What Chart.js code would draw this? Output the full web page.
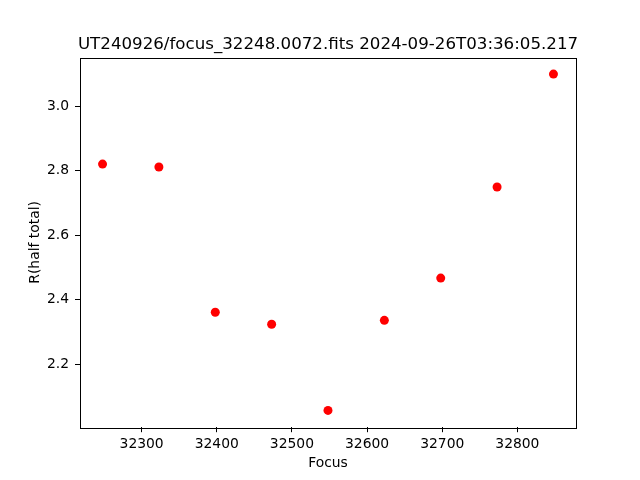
<!DOCTYPE html>
<html>
<head>
<meta charset="utf-8">
<script src="https://cdn.jsdelivr.net/npm/chart.js@4/dist/chart.umd.min.js"></script>
<style>
    html, body { margin: 0; padding: 0; background: #fff; }
    #wrap { width: 640px; height: 480px; }
</style>
</head>
<body>
<div id="wrap"><canvas id="focusChart" width="640" height="480"></canvas></div>
<script>
const focusValues = [32248, 32323, 32398, 32473, 32548, 32623, 32698, 32773, 32848];
const halfTotalR = [2.820, 2.811, 2.361, 2.324, 2.057, 2.336, 2.467, 2.749, 3.099];
const xTicks = [32300, 32400, 32500, 32600, 32700, 32800];
const yTicks = [2.2, 2.4, 2.6, 2.8, 3.0];

const chartTitle = 'UT240926/focus_32248.0072.fits 2024-09-26T03:36:05.217';
const fontFamily = '"DejaVu Sans", sans-serif';

// matplotlib style: full black frame and a title centred on the plot area
const frame = {
    id: 'frame',
    afterDraw(chart) {
        const { ctx, chartArea: a } = chart;
        ctx.save();
        ctx.strokeStyle = '#000';
        ctx.lineWidth = 1;
        ctx.strokeRect(Math.round(a.left) + 0.5, Math.round(a.top) + 0.5,
            Math.round(a.right - a.left), Math.round(a.bottom - a.top));
        ctx.fillStyle = '#000';
        ctx.font = '16.67px ' + fontFamily;
        ctx.textAlign = 'center';
        ctx.textBaseline = 'alphabetic';
        ctx.fillText(chartTitle, (a.left + a.right) / 2, a.top - 8.5);
        ctx.restore();
    }
};

const points = focusValues.map((x, i) => ({ x, y: halfTotalR[i] }));

new Chart(document.getElementById('focusChart'), {
    type: 'scatter',
    data: {
        datasets: [{
            data: points,
            backgroundColor: '#ff0000',
            borderWidth: 0,
            pointRadius: 4.5,
            pointHoverRadius: 4.5
        }]
    },
    options: {
        responsive: false,
        animation: false,
        layout: { padding: { left: 0, right: 64, top: 57.6, bottom: 0 } },
        plugins: {
            legend: { display: false },
            tooltip: { enabled: false },
            title: { display: false }
        },
        scales: {
            x: {
                type: 'linear',
                min: 32218,
                max: 32878,
                afterBuildTicks: (scale) => { scale.ticks = xTicks.map((v) => ({ value: v })); },
                afterFit: (scale) => { scale.height = 52.8; },
                grid: { display: true, drawOnChartArea: false, tickLength: 5, tickColor: '#000' },
                border: { display: false },
                ticks: {
                    color: '#000',
                    padding: 4,
                    maxRotation: 0,
                    autoSkip: false,
                    font: { family: fontFamily, size: 13.89 },
                    callback: (v) => String(v)
                },
                title: {
                    display: true,
                    text: 'Focus',
                    color: '#000',
                    font: { family: fontFamily, size: 13.89 },
                    padding: { top: 0, bottom: 8 }
                }
            },
            y: {
                type: 'linear',
                min: 2.005,
                max: 3.150,
                afterBuildTicks: (scale) => { scale.ticks = yTicks.map((v) => ({ value: v })); },
                afterFit: (scale) => { scale.width = 80; },
                grid: { display: true, drawOnChartArea: false, tickLength: 5, tickColor: '#000' },
                border: { display: false },
                ticks: {
                    color: '#000',
                    padding: 6,
                    autoSkip: false,
                    font: { family: fontFamily, size: 13.89 },
                    callback: (v) => Number(v).toFixed(1)
                },
                title: {
                    display: true,
                    text: 'R(half total)',
                    color: '#000',
                    font: { family: fontFamily, size: 13.89 },
                    padding: { top: 27, bottom: 0 }
                }
            }
        }
    },
    plugins: [frame]
});
</script>
</body>
</html>
